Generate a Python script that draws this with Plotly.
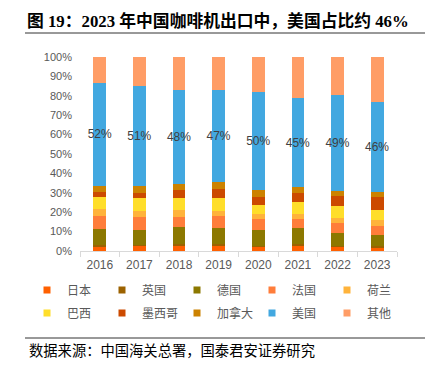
import plotly.graph_objects as go

# ---- data (share of China's coffee machine exports, %) ----
years = ["2016", "2017", "2018", "2019", "2020", "2021", "2022", "2023"]
countries = ["日本", "英国", "德国", "法国", "荷兰", "巴西", "墨西哥", "加拿大", "美国", "其他"]
japan   = [2.4, 2.6, 2.7, 2.6, 2.4, 2.6, 2.4, 1.7]
uk      = [0.5, 0.3, 1.0, 0.9, 0.4, 0.9, 0.4, 0.9]
germany = [8.6, 8.1, 8.8, 8.2, 8.1, 8.2, 6.7, 5.7]
france  = [6.7, 6.4, 5.2, 6.2, 5.3, 4.6, 4.8, 4.5]
neth    = [3.6, 3.4, 3.6, 2.7, 2.6, 2.6, 2.9, 2.9]
brazil  = [6.0, 6.5, 5.8, 6.5, 5.0, 6.2, 6.0, 5.3]
mexico  = [2.4, 2.4, 4.1, 4.8, 3.8, 4.6, 4.8, 6.5]
canada  = [3.4, 3.8, 3.4, 3.4, 3.6, 3.1, 2.9, 2.9]
usa     = [52.6, 51.2, 48.0, 47.3, 50.3, 45.7, 49.1, 46.2]
others  = [13.4, 15.0, 17.0, 17.0, 18.2, 21.1, 19.6, 23.0]
usa_labels = ["52%", "51%", "48%", "47%", "50%", "45%", "49%", "46%"]

series = [japan, uk, germany, france, neth, brazil, mexico, canada, usa, others]
colors = ["#FF6000", "#9C6200", "#8C7800", "#FF7D3A", "#FFB33B",
          "#FFDE2A", "#CC4A00", "#CC8200", "#42A8E0", "#FF9D66"]

# page is 433x365 but the HTML body has an 8px margin -> figure is 8px smaller
OFF = 8
W, H = 433 - OFF, 365 - OFF
# plot area, in page pixels
PL, PR, PT, PB = 80, 397, 57, 251
L, R, T, B = PL - OFF, PR - OFF, PT - OFF, PB - OFF


def px(x):   # page x -> paper fraction
    return (x - PL) / (PR - PL)


def py(y):   # page y -> paper fraction
    return (PB - y) / (PB - PT)


fig = go.Figure()
for name, vals, col in zip(countries, series, colors):
    kw = {}
    if name == "美国":
        kw = dict(text=usa_labels, textposition="inside", insidetextanchor="middle",
                  textangle=0, constraintext="none",
                  textfont=dict(color="#404040", size=12, family="Liberation Sans"))
    fig.add_trace(go.Bar(x=years, y=vals, name=name, marker_color=col,
                         marker_line_width=0, showlegend=False,
                         hoverinfo="skip", **kw))

# legend entries (small square markers): 5 columns x 2 rows
legend_ids = ["legend", "legend2", "legend3", "legend4", "legend5"]
for i, (name, col) in enumerate(zip(countries, colors)):
    fig.add_trace(go.Scatter(x=[None], y=[None], mode="markers", name=name,
                             marker=dict(symbol="square", size=7, color=col),
                             legendgroup=name, legend=legend_ids[i % 5]))

legend_common = dict(orientation="v", xanchor="left", yanchor="middle",
                     traceorder="grouped", tracegroupgap=4,
                     bgcolor="rgba(0,0,0,0)",
                     font=dict(size=12, color="#595959", family="Noto Sans CJK SC"),
                     itemclick=False, itemdoubleclick=False)
legends = {lid: dict(x=px(27 + 75 * k), y=py(301.5), **legend_common)
           for k, lid in enumerate(legend_ids)}

fig.update_layout(
    width=W, height=H,
    margin=dict(l=L, r=W - R, t=T, b=H - B, autoexpand=False),
    paper_bgcolor="white", plot_bgcolor="white",
    barmode="stack", barnorm="percent", bargap=0.68,
    **legends,
    xaxis=dict(type="category", showline=True, linecolor="#D9D9D9", linewidth=1,
               ticks="outside", tickson="boundaries", ticklen=5, tickcolor="#D9D9D9",
               ticklabelstandoff=3,
               tickfont=dict(size=12, color="#595959", family="Liberation Sans"),
               showgrid=False, fixedrange=True),
    yaxis=dict(range=[0, 100], dtick=10, ticksuffix="%", showgrid=False,
               showline=False, zeroline=False, ticks="", ticklabelstandoff=7,
               tickfont=dict(size=11, color="#595959", family="Liberation Sans"),
               fixedrange=True),
    title=dict(text="<b>图 19：2023 年中国咖啡机出口中，美国占比约 46%</b>",
               x=(27 - OFF) / W, xanchor="left", xref="container",
               y=1 - (21 - OFF) / H, yanchor="middle", yref="container",
               font=dict(size=16.8, color="black",
                         family="Liberation Serif, Noto Sans CJK SC")),
    annotations=[dict(text="数据来源：中国海关总署，国泰君安证券研究",
                      xref="paper", yref="paper", x=px(27), y=py(351),
                      xanchor="left", yanchor="middle", showarrow=False,
                      font=dict(size=14.3, color="black",
                                family="Liberation Serif, Noto Sans CJK SC"))],
    shapes=[
        dict(type="line", xref="paper", yref="paper", x0=px(25), x1=px(428),
             y0=py(33), y1=py(33), line=dict(color="#333333", width=1)),
        dict(type="line", xref="paper", yref="paper", x0=px(25), x1=px(428),
             y0=py(338), y1=py(338), line=dict(color="#333333", width=1)),
    ],
)

fig.write_html("out.html")
